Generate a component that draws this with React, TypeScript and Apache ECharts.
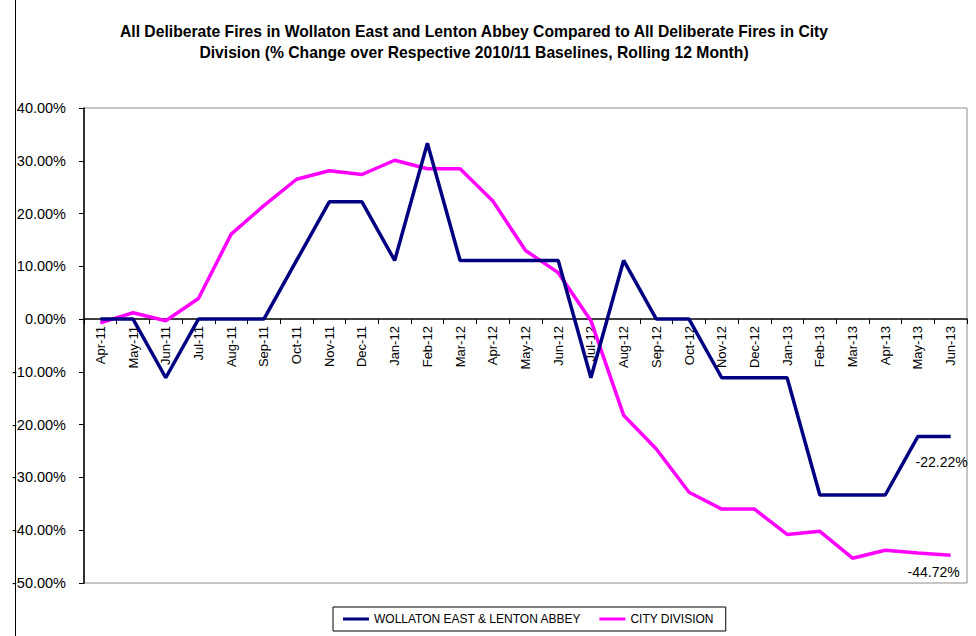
import React, { useEffect, useRef } from "react";
import * as echarts from "echarts";

const months = [
  "Apr-11", "May-11", "Jun-11", "Jul-11", "Aug-11", "Sep-11", "Oct-11", "Nov-11", "Dec-11",
  "Jan-12", "Feb-12", "Mar-12", "Apr-12", "May-12", "Jun-12", "Jul-12", "Aug-12", "Sep-12",
  "Oct-12", "Nov-12", "Dec-12", "Jan-13", "Feb-13", "Mar-13", "Apr-13", "May-13", "Jun-13",
];

const wollaton = [
  0, 0, -11.11, 0, 0, 0, 11.11, 22.22, 22.22,
  11.11, 33.33, 11.11, 11.11, 11.11, 11.11, -11.11, 11.11, 0,
  0, -11.11, -11.11, -11.11, -33.33, -33.33, -33.33, -22.22, -22.22,
];

const cityDivision = [
  -0.7, 1.2, -0.3, 3.9, 16.1, 21.5, 26.5, 28.1, 27.4,
  30.1, 28.5, 28.5, 22.4, 13.0, 8.8, -0.3, -18.2, -24.6,
  -32.8, -36.0, -36.0, -40.8, -40.2, -45.3, -43.8, -44.3, -44.72,
];

const yTicks = { min: -50, max: 40, interval: 10 };

const seriesNames = ["WOLLATON EAST & LENTON ABBEY", "CITY DIVISION"];

const FONT = "Arial, 'Liberation Sans', sans-serif";

const GRID = { left: 84, right: 9, top: 108, bottom: 53 };
const CHART_H = 636;

function endMark(values: number[], offset: number[]) {
  const last = values.length - 1;
  return {
    silent: true,
    symbol: "circle",
    symbolSize: 1,
    itemStyle: { color: "rgba(0,0,0,0)" },
    label: {
      show: true,
      position: "bottom",
      distance: 5,
      offset,
      formatter: (p: any) => `${Number(p.value).toFixed(2)}%`,
      color: "#000",
      fontSize: 14,
      fontFamily: FONT,
    },
    data: [{ coord: [months[last], values[last]], value: values[last] }],
  };
}

export default function App() {
  const ref = useRef<HTMLDivElement>(null);

  useEffect(() => {
    if (!ref.current) return;
    const chart = echarts.init(ref.current, undefined, { renderer: "svg" });
    // distance from the grid bottom to the 0% line, so the category axis sits on zero
    const plotH = CHART_H - GRID.top - GRID.bottom;
    const zeroOffset = -(plotH * (0 - yTicks.min)) / (yTicks.max - yTicks.min);
    chart.setOption({
      animation: false,
      backgroundColor: "#fff",
      graphic: [
        {
          type: "line",
          shape: { x1: 15.5, y1: 0, x2: 15.5, y2: 636 },
          style: { stroke: "#000", lineWidth: 1 },
        },
        {
          type: "text",
          x: 474,
          y: 21,
          style: {
            text:
              "All Deliberate Fires in Wollaton East and Lenton Abbey Compared to All Deliberate Fires in City\nDivision (% Change over Respective 2010/11 Baselines, Rolling 12 Month)",
            textAlign: "center",
            font: `bold 15.7px ${FONT}`,
            lineHeight: 21,
            fill: "#000",
          },
        },
      ],
      grid: {
        ...GRID,
        show: true,
        borderColor: "#8c8c8c",
        borderWidth: 1,
        backgroundColor: "transparent",
      },
      legend: {
        data: seriesNames,
        left: 333,
        top: 607,
        icon: "rect",
        itemWidth: 26,
        itemHeight: 3,
        itemGap: 18,
        padding: [6, 12, 6, 10],
        borderColor: "#000",
        borderWidth: 1,
        borderRadius: 0,
        textStyle: { fontSize: 12, fontFamily: FONT, color: "#000" },
      },
      xAxis: {
        type: "category",
        data: months,
        boundaryGap: true,
        position: "bottom",
        offset: zeroOffset,
        axisLine: { onZero: false, lineStyle: { color: "#000", width: 1.5 } },
        axisTick: { show: true, length: 5, interval: 0, lineStyle: { color: "#000" } },
        axisLabel: {
          rotate: 90,
          interval: 0,
          margin: 7,
          fontSize: 13,
          fontFamily: FONT,
          color: "#000",
        },
        splitLine: { show: false },
      },
      yAxis: {
        type: "value",
        min: yTicks.min,
        max: yTicks.max,
        interval: yTicks.interval,
        axisLine: { show: true, lineStyle: { color: "#000", width: 1.5 } },
        axisTick: { show: true, length: 5, lineStyle: { color: "#000" } },
        axisLabel: {
          formatter: (v: number) => `${v.toFixed(2)}%`,
          fontSize: 14.5,
          fontFamily: FONT,
          color: "#000",
          margin: 18,
        },
        splitLine: { show: false },
      },
      series: [
        {
          name: seriesNames[1],
          type: "line",
          data: cityDivision,
          symbol: "none",
          color: "#ff00ff",
          lineStyle: { color: "#ff00ff", width: 3.5 },
          markPoint: endMark(cityDivision, [-17, 4]),
          z: 2,
        },
        {
          name: seriesNames[0],
          type: "line",
          data: wollaton,
          symbol: "none",
          color: "#000080",
          lineStyle: { color: "#000080", width: 3.5 },
          markPoint: endMark(wollaton, [-9, 13]),
          z: 3,
        },
      ],
    });
    return () => chart.dispose();
  }, []);

  return (
    <div
      ref={ref}
      style={{ position: "fixed", left: 0, top: 0, width: 976, height: 636 }}
    />
  );
}
